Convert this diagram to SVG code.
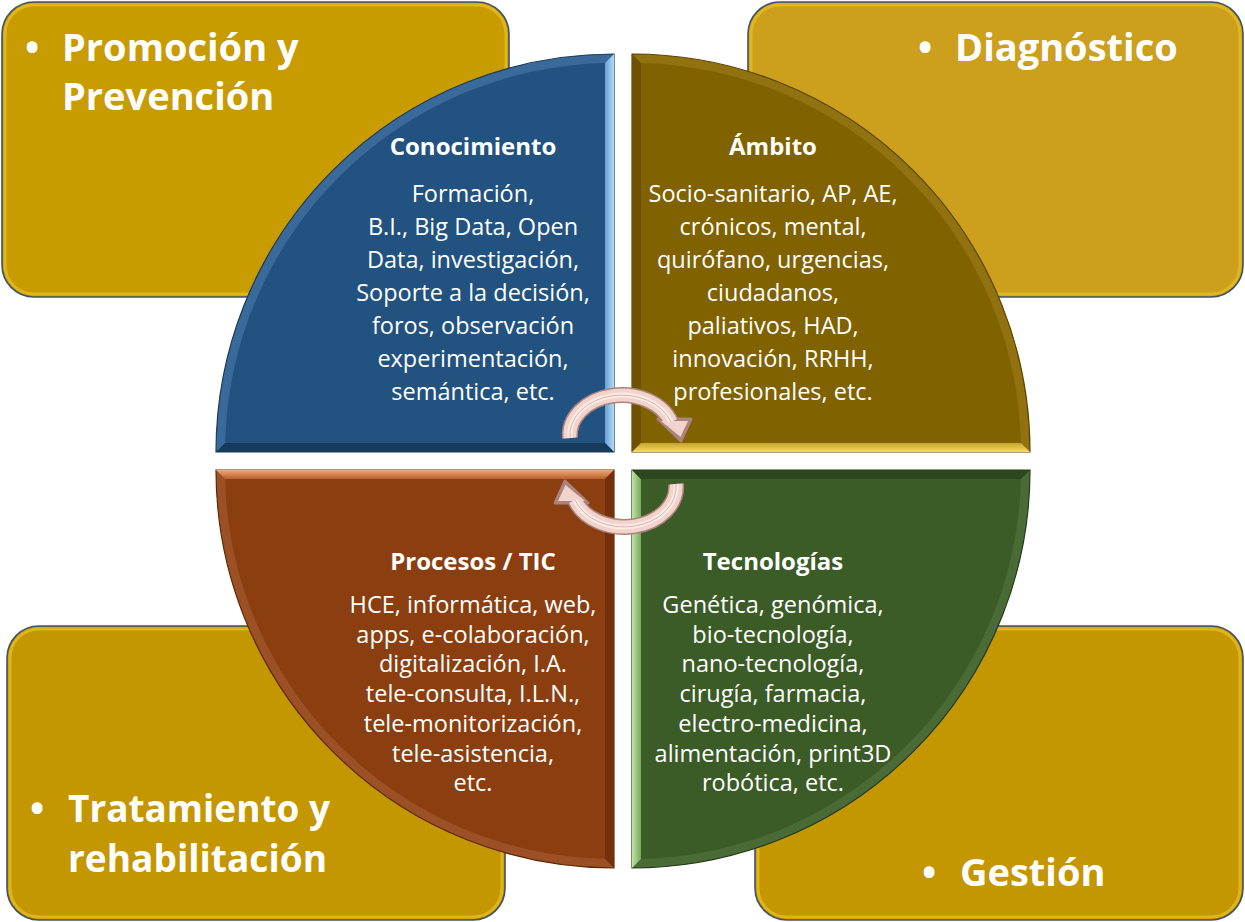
<svg xmlns="http://www.w3.org/2000/svg" width="1245" height="922" viewBox="0 0 1245 922">
<defs>
<style>
.box{stroke:#3f5268;stroke-width:1.6}
.boxin{fill:none;stroke:#e6bd20;stroke-width:3;opacity:0.8}
.big{font-family:"Open Sans","Liberation Sans",sans-serif;font-weight:bold;font-size:38px;fill:#ffffff}
.hd{font-family:"Open Sans","Liberation Sans",sans-serif;font-weight:bold;font-size:24px;fill:#ffffff;text-anchor:middle}
.tx{font-family:"Open Sans","Liberation Sans",sans-serif;font-size:23.5px;fill:#ffffff;text-anchor:middle}
.aro{fill:none;stroke:#a9837c;stroke-width:16}
.arf{fill:none;stroke:#f1d3cb;stroke-width:13}
.arh{fill:none;stroke:#fbebe6;stroke-width:5}
.arl{fill:none;stroke:#dcb3aa;stroke-width:1}
</style>
<linearGradient id="gBlueR" x1="0" y1="0" x2="1" y2="0"><stop offset="0" stop-color="#6b9fd3"/><stop offset="1" stop-color="#b3dbfa"/></linearGradient>
<linearGradient id="gOliveB" x1="0" y1="0" x2="0" y2="1"><stop offset="0" stop-color="#c9a324"/><stop offset="1" stop-color="#f5d96e"/></linearGradient>
<linearGradient id="gOrangeT" x1="0" y1="1" x2="0" y2="0"><stop offset="0" stop-color="#b8602e"/><stop offset="1" stop-color="#f2a878"/></linearGradient>
<linearGradient id="gGreenL" x1="1" y1="0" x2="0" y2="0"><stop offset="0" stop-color="#78a861"/><stop offset="1" stop-color="#bfe5a6"/></linearGradient>
</defs>

<g id="node-promocion">
<rect class="box" x="2" y="2" width="507" height="295" rx="32" fill="#c89b00"/>
<rect class="boxin" x="5" y="5" width="501" height="289" rx="29"/>
<text class="big" x="25" y="61">•</text>
<text class="big" x="62" y="61">Promoción y</text>
<text class="big" x="62" y="110">Prevención</text>
</g>

<g id="node-diagnostico">
<rect class="box" x="748" y="2" width="495" height="295" rx="32" fill="#cca01c"/>
<rect class="boxin" x="751" y="5" width="489" height="289" rx="29"/>
<text class="big" x="918" y="61">•</text>
<text class="big" x="955" y="61">Diagnóstico</text>
</g>

<g id="node-tratamiento">
<rect class="box" x="7" y="626" width="498" height="294" rx="32" fill="#c49700"/>
<rect class="boxin" x="10" y="629" width="492" height="288" rx="29"/>
<text class="big" x="30" y="822">•</text>
<text class="big" x="68" y="822" textLength="262" lengthAdjust="spacingAndGlyphs">Tratamiento y</text>
<text class="big" x="68" y="872" textLength="259" lengthAdjust="spacingAndGlyphs">rehabilitación</text>
</g>

<g id="node-gestion">
<rect class="box" x="755" y="626" width="488" height="294" rx="32" fill="#c49600"/>
<rect class="boxin" x="758" y="629" width="482" height="288" rx="29"/>
<text class="big" x="922" y="886">•</text>
<text class="big" x="960" y="886">Gestión</text>
</g>

<g id="node-conocimiento">
<path d="M614,452 L216,452 A398,398 0 0 1 614,54 Z" fill="#3a6a9a" stroke="#1a3b5c" stroke-width="1.2"/>
<path d="M614,54 L614,452 L605,443 L605,63.1 Z" fill="url(#gBlueR)"/>
<path d="M216,452 L614,452 L605,443 L225.1,443 Z" fill="#173a5c"/>
<path d="M605,443 L225.1,443 A389,389 0 0 1 605,63.1 Z" fill="#22527f"/>
<text class="hd" x="473" y="155">Conocimiento</text>
<text class="tx" x="473" y="202">Formación,</text>
<text class="tx" x="473" y="235">B.I., Big Data, Open</text>
<text class="tx" x="473" y="268">Data, investigación,</text>
<text class="tx" x="473" y="301">Soporte a la decisión,</text>
<text class="tx" x="473" y="334">foros, observación</text>
<text class="tx" x="473" y="367">experimentación,</text>
<text class="tx" x="473" y="400">semántica, etc.</text>
</g>

<g id="node-ambito">
<path d="M632,452 L632,54 A398,398 0 0 1 1030,452 Z" fill="#927210" stroke="#5a4400" stroke-width="1.2"/>
<path d="M632,54 L641,63.1 L641,443 L632,452 Z" fill="#6c5200"/>
<path d="M632,452 L641,443 L1020.9,443 L1030,452 Z" fill="url(#gOliveB)"/>
<path d="M641,443 L641,63.1 A389,389 0 0 1 1020.9,443 Z" fill="#806200"/>
<text class="hd" x="773" y="155">Ámbito</text>
<text class="tx" x="773" y="202">Socio-sanitario, AP, AE,</text>
<text class="tx" x="773" y="235">crónicos, mental,</text>
<text class="tx" x="773" y="268">quirófano, urgencias,</text>
<text class="tx" x="773" y="301">ciudadanos,</text>
<text class="tx" x="773" y="334">paliativos, HAD,</text>
<text class="tx" x="773" y="367">innovación, RRHH,</text>
<text class="tx" x="773" y="400">profesionales, etc.</text>
</g>

<g id="node-procesos">
<path d="M614,470 L614,868 A398,398 0 0 1 216,470 Z" fill="#9c5026" stroke="#5e2800" stroke-width="1.2"/>
<path d="M216,470 L614,470 L605,479 L225.1,479 Z" fill="url(#gOrangeT)"/>
<path d="M614,470 L614,868 L605,858.9 L605,479 Z" fill="#74300a"/>
<path d="M605,479 L605,858.9 A389,389 0 0 1 225.1,479 Z" fill="#8b3f10"/>
<text class="hd" x="473" y="570">Procesos / TIC</text>
<text class="tx" x="473" y="613">HCE, informática, web,</text>
<text class="tx" x="473" y="642.7">apps, e-colaboración,</text>
<text class="tx" x="473" y="672.4">digitalización, I.A.</text>
<text class="tx" x="473" y="702">tele-consulta, I.L.N.,</text>
<text class="tx" x="473" y="731.8">tele-monitorización,</text>
<text class="tx" x="473" y="761.5">tele-asistencia,</text>
<text class="tx" x="473" y="791">etc.</text>
</g>

<g id="node-tecnologias">
<path d="M632,470 L1030,470 A398,398 0 0 1 632,868 Z" fill="#4a6b35" stroke="#22391a" stroke-width="1.2"/>
<path d="M632,470 L641,479 L641,858.9 L632,868 Z" fill="url(#gGreenL)"/>
<path d="M632,470 L1030,470 L1020.9,479 L641,479 Z" fill="#2c471d"/>
<path d="M641,479 L1020.9,479 A389,389 0 0 1 641,858.9 Z" fill="#3b5b27"/>
<text class="hd" x="773" y="570">Tecnologías</text>
<text class="tx" x="773" y="613">Genética, genómica,</text>
<text class="tx" x="773" y="642.7">bio-tecnología,</text>
<text class="tx" x="773" y="672.4">nano-tecnología,</text>
<text class="tx" x="773" y="702">cirugía, farmacia,</text>
<text class="tx" x="773" y="731.8">electro-medicina,</text>
<text class="tx" x="773" y="761.5">alimentación, print3D</text>
<text class="tx" x="773" y="791">robótica, etc.</text>
</g>

<g id="connectors">
<g id="arrow-top">
<path class="aro" d="M570,438 A52,40 0 0 1 671,422"/>
<polygon points="658,419 691,419 681,441" fill="#a9837c" stroke="#a9837c" stroke-width="3" stroke-linejoin="round"/>
<path class="arf" d="M570,438 A52,40 0 0 1 671,422"/>
<polygon points="661,421 688,421 680.5,437" fill="#f1d3cb"/>
<path class="arh" d="M570,438 A52,40 0 0 1 671,422"/>
<path class="arl" d="M570,438 A52,40 0 0 1 671,422"/>
</g>
<g id="arrow-bottom" transform="rotate(180 623 461)">
<path class="aro" d="M570,438 A52,40 0 0 1 671,422"/>
<polygon points="658,419 691,419 681,441" fill="#a9837c" stroke="#a9837c" stroke-width="3" stroke-linejoin="round"/>
<path class="arf" d="M570,438 A52,40 0 0 1 671,422"/>
<polygon points="661,421 688,421 680.5,437" fill="#f1d3cb"/>
<path class="arh" d="M570,438 A52,40 0 0 1 671,422"/>
<path class="arl" d="M570,438 A52,40 0 0 1 671,422"/>
</g>
</g>
</svg>
